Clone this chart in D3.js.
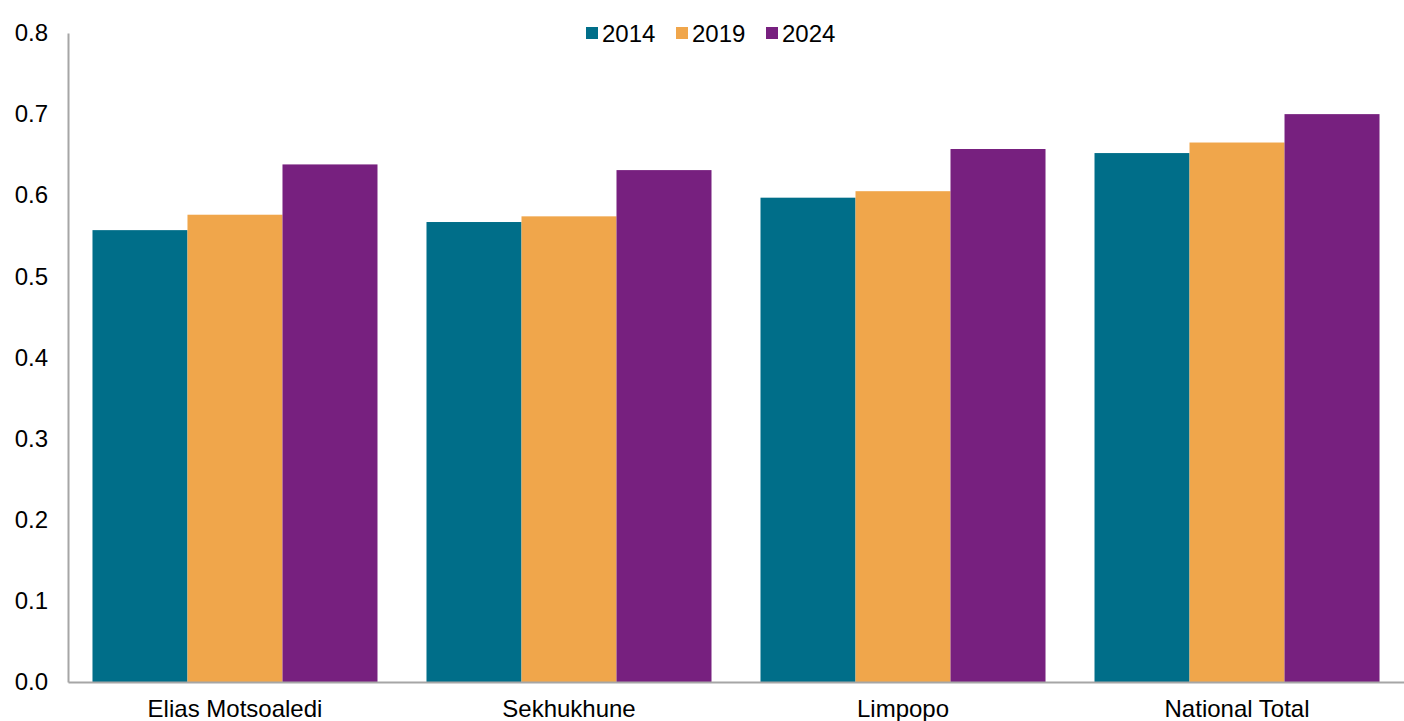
<!DOCTYPE html>
<html>
<head>
<meta charset="utf-8">
<script src="https://cdn.jsdelivr.net/npm/d3@7"></script>
<style>
  html, body { margin: 0; padding: 0; background: #ffffff; }
  svg { display: block; font-family: "Liberation Sans", Arial, sans-serif; }
</style>
</head>
<body>
<svg id="chart" width="1404" height="721"></svg>
<script>
const categories = ["Elias Motsoaledi", "Sekhukhune", "Limpopo", "National Total"];
const seriesNames = ["2014", "2019", "2024"];
const values2014 = [0.557, 0.567, 0.597, 0.652];
const values2019 = [0.576, 0.574, 0.605, 0.665];
const values2024 = [0.638, 0.631, 0.657, 0.700];
const yTicks = [0, 0.1, 0.2, 0.3, 0.4, 0.5, 0.6, 0.7, 0.8];
const colors = ["#006e89", "#f0a64b", "#77207f"];

const seriesValues = [values2014, values2019, values2024];

const svg = d3.select("#chart");
const W = 1404, H = 721;
const margin = { left: 68, right: 0, top: 33, bottom: 39 };
const FS = 24;

const x0 = d3.scaleBand()
  .domain(categories)
  .range([margin.left, W - margin.right])
  .paddingInner(0.1467)
  .paddingOuter(0.0733);

const x1 = d3.scaleBand()
  .domain(seriesNames)
  .range([0, x0.bandwidth()]);

const y = d3.scaleLinear().domain([0, 0.8]).range([H - margin.bottom, margin.top]);

// bars
seriesNames.forEach((s, si) => {
  svg.append("g").attr("fill", colors[si])
    .selectAll("rect")
    .data(categories.map((c, ci) => ({ c, v: seriesValues[si][ci] })))
    .join("rect")
    .attr("x", d => x0(d.c) + x1(s))
    .attr("y", d => y(d.v))
    .attr("width", x1.bandwidth())
    .attr("height", d => y(0) - y(d.v));
});

// y axis
const yAxis = d3.axisLeft(y).tickValues(yTicks).tickFormat(d3.format(".1f")).tickSize(0).tickPadding(20);
const gy = svg.append("g").attr("transform", `translate(${margin.left},0)`).call(yAxis);
gy.select(".domain").attr("stroke", "#a6a6a6").attr("stroke-width", 2);
gy.selectAll("text").attr("font-size", FS).attr("fill", "#000").attr("font-family", "Liberation Sans, Arial, sans-serif");

// x axis
const xAxis = d3.axisBottom(x0).tickSize(0).tickPadding(18);
const gx = svg.append("g").attr("transform", `translate(0,${y(0)})`).call(xAxis);
gx.select(".domain").attr("stroke", "#a6a6a6").attr("stroke-width", 2);
gx.selectAll("text").attr("font-size", FS).attr("fill", "#000").attr("font-family", "Liberation Sans, Arial, sans-serif");

// legend
const legendX = [586, 676, 766];
const lg = svg.append("g");
seriesNames.forEach((s, i) => {
  lg.append("rect").attr("x", legendX[i]).attr("y", 27).attr("width", 12).attr("height", 12).attr("fill", colors[i]);
  lg.append("text").attr("x", legendX[i] + 16).attr("y", 41.5).attr("font-size", FS).attr("fill", "#000").text(s);
});
</script>
</body>
</html>
